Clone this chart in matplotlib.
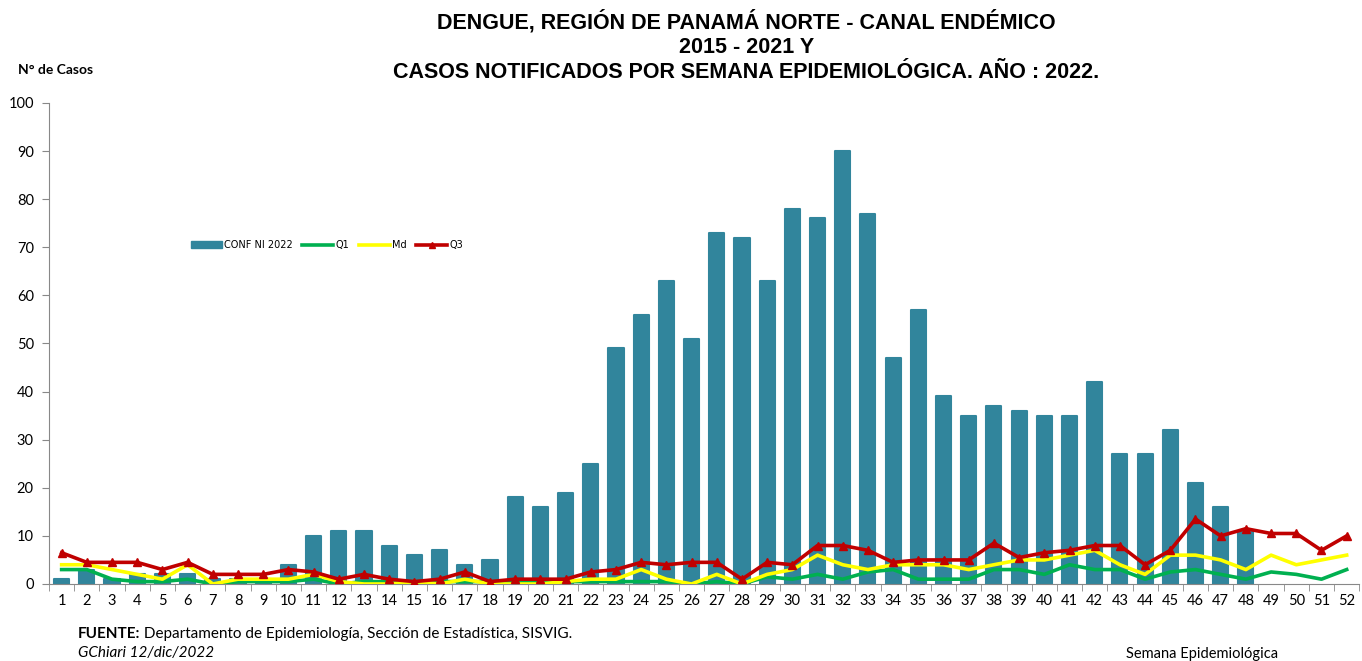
"""
Canal endemico de dengue, Panama Norte 2022.
"""

import matplotlib
matplotlib.use("Agg")
import matplotlib.pyplot as plt
from matplotlib.lines import Line2D
from matplotlib.patches import Patch

semanas = list(range(1, 53))

# casos confirmados + no importados 2022 (semanas 1-48)
conf_2022 = [1, 3, 1, 2, 2, 2, 1, 1, 1, 4, 10, 11, 11, 8, 6, 7, 4, 5, 18, 16,
             19, 25, 49, 56, 63, 51, 73, 72, 63, 78, 76, 90, 77, 47, 57, 39, 35, 37, 36, 35,
             35, 42, 27, 27, 32, 21, 16, 11]

q1 = [3, 3, 1, 0.5, 0.5, 1, 0, 0.5, 0.5, 0.5, 1, 0, 0.5, 0.5, 0.5, 0.5, 0.5, 0.5, 0.5, 0.5,
      0.5, 0.5, 0.5, 0.5, 0.5, 0, 0.5, 0, 1.5, 1, 2, 1, 2.5, 3, 1, 1, 1, 3, 3, 2,
      4, 3, 3, 1, 2.5, 3, 2, 1, 2.5, 2, 1, 3]

md = [4, 4, 3, 2, 1, 4, 0, 1, 1, 1, 2, 0.5, 0, 0, 0.5, 0, 1, 0, 0, 0,
      0.5, 1, 1, 3, 1, 0, 2, 0, 2, 3, 6, 4, 3, 4, 4, 4, 3, 4, 5, 5,
      6, 7, 4, 2, 6, 6, 5, 3, 6, 4, 5, 6]

q3 = [6.5, 4.5, 4.5, 4.5, 3, 4.5, 2, 2, 2, 3, 2.5, 1, 2, 1, 0.5, 1, 2.5, 0.5, 1, 1,
      1, 2.5, 3, 4.5, 4, 4.5, 4.5, 1, 4.5, 4, 8, 8, 7, 4.5, 5, 5, 5, 8.5, 5.5, 6.5,
      7, 8, 8, 4, 7, 13.5, 10, 11.5, 10.5, 10.5, 7, 10]

BAR = '#31859C'
GREEN = '#00B050'
YELLOW = '#FFFF00'
RED = '#C00000'

fig = plt.figure(figsize=(13.62, 6.61), dpi=100)
ax = fig.add_axes([0.036, 0.1165, 0.962, 0.7277])

ax.bar(semanas[:len(conf_2022)], conf_2022, width=0.6, color=BAR,
       edgecolor=BAR, linewidth=1.5, joinstyle='round', zorder=2)
ax.plot(semanas, q1, color=GREEN, lw=2.6, zorder=3)
ax.plot(semanas, md, color=YELLOW, lw=2.6, zorder=4)
ax.plot(semanas, q3, color=RED, lw=2.6, marker='^', markersize=6, zorder=5)

ax.set_xlim(0.5, 52.5)
ax.set_ylim(0, 100)
ax.set_yticks(range(0, 101, 10))
ax.set_xticks(semanas)
ax.set_xticks([s + 0.5 for s in range(0, 53)], minor=True)
ax.tick_params(axis='x', which='major', length=0, pad=7, labelsize=10.5)
ax.tick_params(axis='x', which='minor', length=5, color='#888888')
ax.tick_params(axis='y', length=5, color='#888888', labelsize=10.5, pad=6)
for lbl in ax.get_xticklabels() + ax.get_yticklabels():
    lbl.set_family('Lato')
for s in ['top', 'right']:
    ax.spines[s].set_visible(False)
ax.spines['left'].set_color('#888888')
ax.spines['bottom'].set_color('#888888')

# leyenda
handles = [Patch(color=BAR), Line2D([], [], color=GREEN, lw=2.6),
           Line2D([], [], color=YELLOW, lw=2.6),
           Line2D([], [], color=RED, lw=2.6, marker='^', markersize=4)]
fig.legend(handles, ['CONF NI 2022', 'Q1', 'Md', 'Q3'], ncol=4, frameon=False,
           loc='center', bbox_to_anchor=(0.24, 0.629), fontsize=7,
           handlelength=3.2, handletextpad=0.2, columnspacing=1.0)

# textos
titulo = ("DENGUE, REGIÓN DE PANAMÁ NORTE - CANAL ENDÉMICO\n2015 - 2021 Y\n"
          "CASOS NOTIFICADOS POR SEMANA EPIDEMIOLÓGICA. AÑO : 2022.")
fig.text(0.548, 0.985, titulo, ha='center', va='top', fontsize=15.5,
         fontweight='bold', family='Liberation Sans', linespacing=1.25)
fig.text(0.013, 0.894, 'N° de Casos', fontsize=10, fontweight='bold',
         family='Lato', va='center')

t = fig.text(0.057, 0.035, 'FUENTE:', fontsize=11, fontweight='bold',
             family='Lato', va='baseline')
ax.annotate(' Departamento de Epidemiología, Sección de Estadística, SISVIG.',
            xy=(1, 0), xycoords=t, va='bottom', fontsize=11, family='Lato')
fig.text(0.057, 0.006, 'GChiari 12/dic/2022', fontsize=11, style='italic',
         family='Lato', va='baseline')
fig.text(0.827, 0.005, 'Semana Epidemiológica', fontsize=10.5, family='Lato',
         va='baseline')

plt.savefig('out.png', dpi=100)
